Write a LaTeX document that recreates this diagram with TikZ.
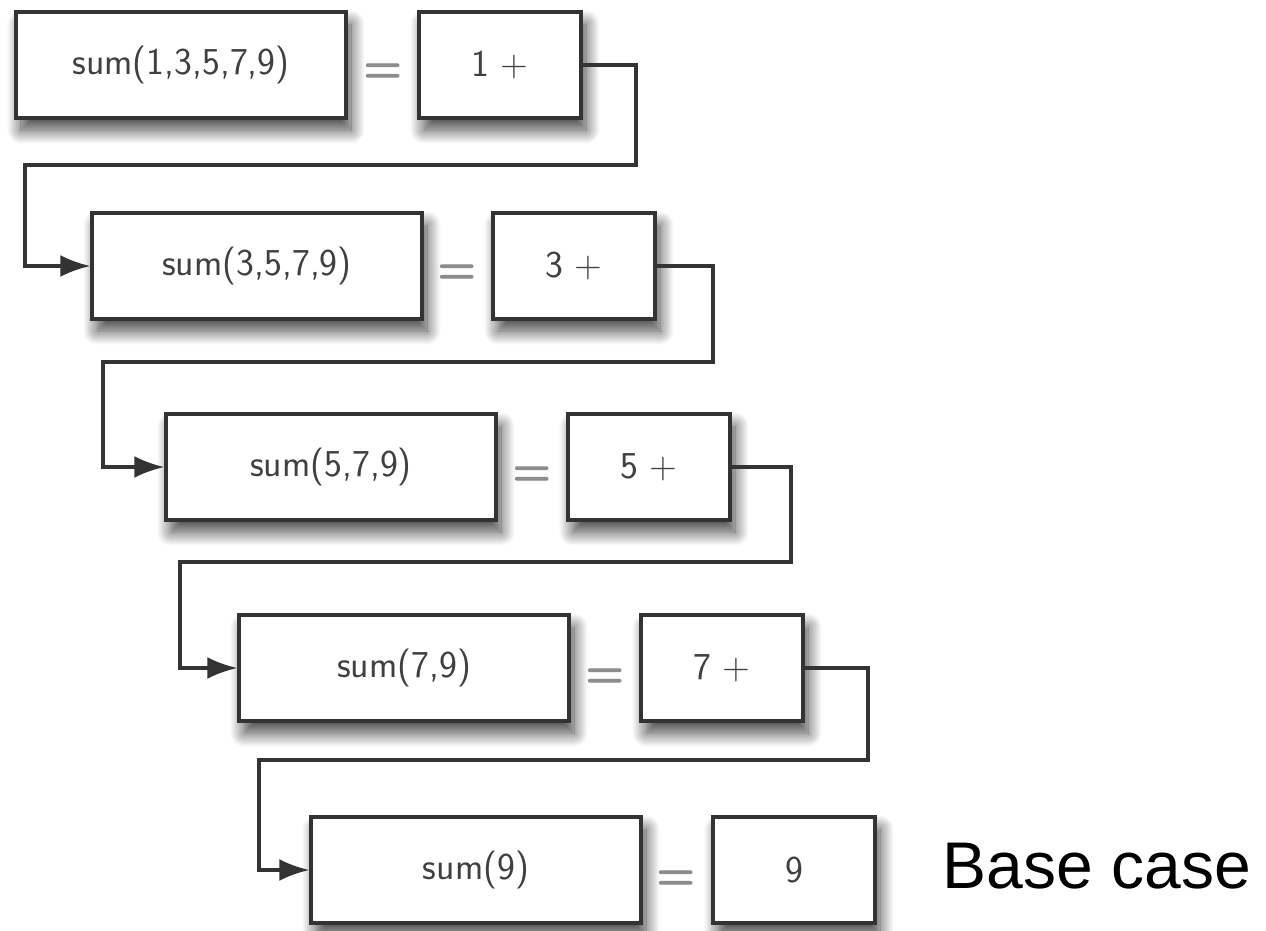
\documentclass[tikz,border=0pt]{standalone}
\usepackage{fontspec}
\newfontfamily\notefont{Liberation Sans}
\usetikzlibrary{arrows.meta,shadows.blur}

\tikzset{
  box/.style={draw=black!80, line width=3.5pt, fill=white, inner sep=0pt,
    minimum width=330pt, minimum height=106pt, text=black!75,
    font=\sffamily\fontsize{38}{44}\selectfont,
    blur shadow={shadow xshift=5pt, shadow yshift=-12pt, shadow blur radius=14pt,
      shadow blur steps=30, shadow opacity=75}},
  numbox/.style={box, minimum width=162pt},
  eqsign/.style={text=black!45, inner sep=0pt, font=\sffamily\bfseries\fontsize{46}{50}\selectfont},
  link/.style={draw=black!80, line width=3.2pt},
  go/.style={link, -{Latex[length=30pt,width=22pt]}},
}

\begin{document}
\begin{tikzpicture}[x=1pt,y=-1pt]
\useasboundingbox (0,0) rectangle (1266,930);

% one row per call
\node[box] (s1) at (181,65) {sum(1,3,5,7,9)};
\node[numbox] (v1) at (500,65) {1 +};
\node[eqsign] (e1) at (383,73) {=};

\node[box] (s2) at (257,266) {sum(3,5,7,9)};
\node[numbox] (v2) at (574,266) {3 +};
\node[eqsign] (e2) at (457,274) {=};

\node[box] (s3) at (331,467) {sum(5,7,9)};
\node[numbox] (v3) at (649,467) {5 +};
\node[eqsign] (e3) at (532,476) {=};

\node[box] (s4) at (404,668) {sum(7,9)};
\node[numbox] (v4) at (722,668) {7 +};
\node[eqsign] (e4) at (605,678) {=};

\node[box] (s5) at (476,870) {sum(9)};
\node[numbox] (v5) at (794,870) {9};
\node[eqsign] (e5) at (676,880) {=};

\node[font=\notefont\fontsize{66}{74}\selectfont] (base) at (1097,866) {Base case};

% turns of the connectors
\coordinate (r1) at (636,165); \coordinate (l1) at (25,165);
\coordinate (r2) at (713,362); \coordinate (l2) at (103,362);
\coordinate (r3) at (791,562); \coordinate (l3) at (180,562);
\coordinate (r4) at (868,760); \coordinate (l4) at (259,760);

\draw[go] (v1.east) -| (r1) -- (l1) |- (s2.west);
\draw[go] (v2.east) -| (r2) -- (l2) |- (s3.west);
\draw[go] (v3.east) -| (r3) -- (l3) |- (s4.west);
\draw[go] (v4.east) -| (r4) -- (l4) |- (s5.west);
\end{tikzpicture}
\end{document}
